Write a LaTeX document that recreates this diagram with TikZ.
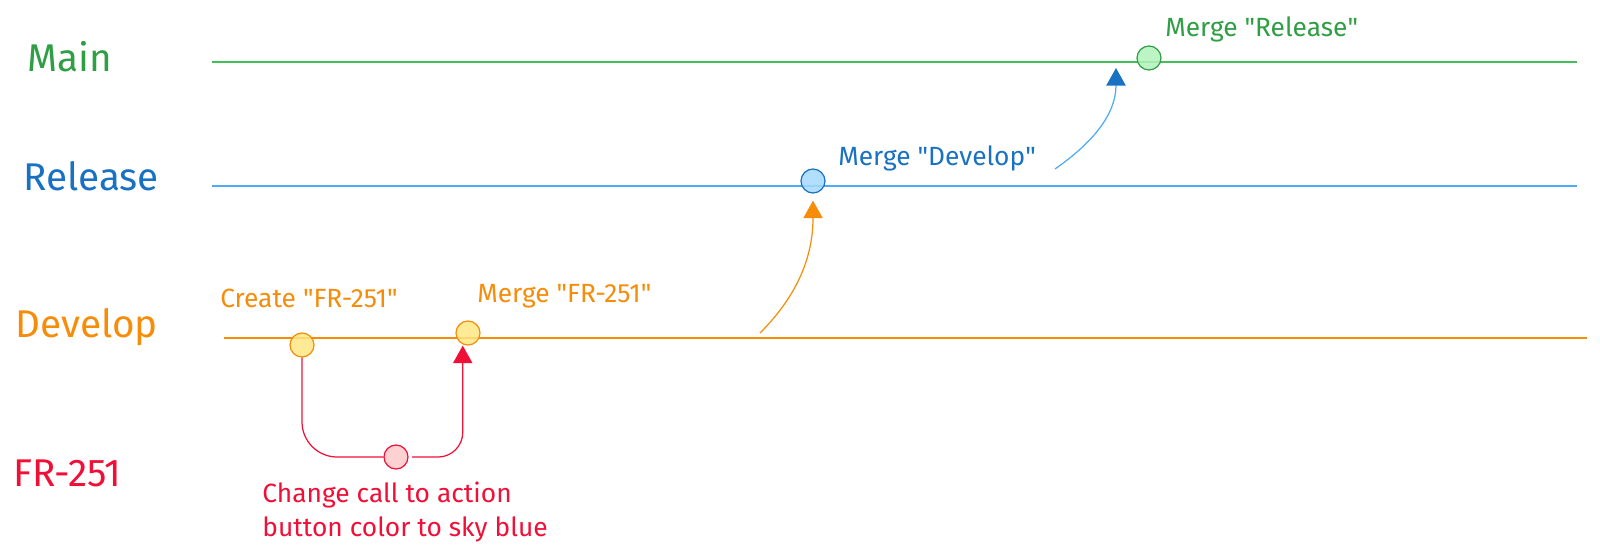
\documentclass[tikz,border=0pt]{standalone}
\usepackage{fontspec}
\setmainfont{Fira Sans}
\usetikzlibrary{arrows.meta, positioning}
\definecolor{maingreen}{RGB}{47,158,68}
\definecolor{mainline}{RGB}{64,192,87}
\definecolor{mainfill}{RGB}{178,242,187}
\definecolor{relblue}{RGB}{25,113,194}
\definecolor{relline}{RGB}{77,171,247}
\definecolor{relfill}{RGB}{165,216,255}
\definecolor{devorange}{RGB}{245,140,10}
\definecolor{devfill}{RGB}{255,230,130}
\definecolor{fixred}{RGB}{240,15,55}
\definecolor{fixfill}{RGB}{255,201,201}
\newcommand{\qt}[1]{\textquotedbl#1\textquotedbl}

\begin{document}
\begin{tikzpicture}[
    x=0.02cm, y=-0.02cm,
    branch/.style  ={font=\fontsize{22}{26}\selectfont, anchor=west, inner sep=0pt},
    note/.style    ={font=\fontsize{15}{19}\selectfont, anchor=west, inner sep=0pt,
                     align=left},
    track/.style   ={line width=1.1pt},
    commit/.style  ={circle, line width=0.7pt, minimum size=4.8mm, inner sep=0pt,
                     fill opacity=0.85},
    merge/.style   ={-{Triangle[width=11pt, length=10pt]}, line width=0.7pt},
  ]

  \useasboundingbox (0,0) rectangle (1600,555);

  % ---- branch names ----
  \node[branch, maingreen] (lmain) at (27,57)  {Main};
  \node[branch, relblue]   (lrel)  at (23,176) {Release};
  \node[branch, devorange] (ldev)  at (15,327) {Develop};
  \node[branch, fixred]    (lfix)  at (13,473) {FR-251};

  % ---- branch tracks ----
  \draw[track, mainline]  (212,62)  -- (1577,62);
  \draw[track, relline]   (212,186) -- (1577,186);
  \draw[track, devorange] (224,338) -- (1587,338);

  % ---- commits ----
  \node[commit, draw=maingreen, fill=mainfill]  (mainmerge) at (1149,58)  {};
  \node[commit, draw=relblue, fill=relfill]     (relmerge)  at (813,181)  {};
  \node[commit, draw=devorange, fill=devfill]   (create)    at (302,345)  {};
  \node[commit, draw=devorange, fill=devfill]   (devmerge)  at (468,333)  {};
  \node[commit, draw=fixred, fill=fixfill]      (fixcommit) at (396,457)  {};

  % ---- commit notes ----
  \node[note, maingreen] (nmain)   at (1165,29)  {Merge \qt{Release}};
  \node[note, relblue]   (nrel)    at (838,158)  {Merge \qt{Develop}};
  \node[note, devorange] (ncreate) at (220,298)  {Create \qt{FR-251}};
  \node[note, devorange] (ndev)    at (477,296)  {Merge \qt{FR-251}};
  \node[note, fixred]    (nfix)    at (262,512)  {Change call to action\\button color to sky blue};

  % ---- free ends of the merge arrows ----
  \coordinate (devfork) at (760,333);
  \coordinate (relfork) at (1055,169);
  \coordinate (mainin)  at (1116,68);

  % ---- feature branch ----
  \draw[fixred, line width=0.7pt, rounded corners=20pt]
    (create.south) |- (fixcommit.west);
  \draw[merge, fixred, rounded corners=14pt]
    ([xshift=2pt]fixcommit.east) -| ([xshift=-3pt]devmerge.south);

  % ---- merges upward ----
  \draw[merge, devorange, shorten >=4pt]
    (devfork) to[out=45, in=-90] (relmerge.south);
  \draw[merge, relline, -{Triangle[width=11pt, length=10pt, color=relblue]}]
    (relfork) to[out=35, in=-90] (mainin);

\end{tikzpicture}
\end{document}
